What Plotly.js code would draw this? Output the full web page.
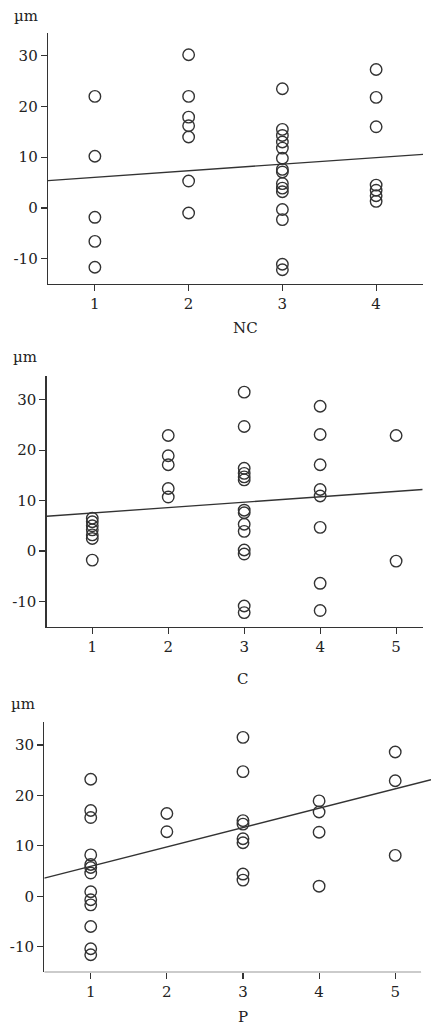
<!DOCTYPE html>
<html>
<head>
<meta charset="utf-8">
<script src="https://cdn.plot.ly/plotly-3.0.1.min.js"></script>
<style>html,body{margin:0;padding:0;background:#fff;}#chart{width:431px;height:1029px;}</style>
</head>
<body>
<div id="chart"></div>
<script>
// ---- data ----
const ncX = [1,1,1,1,1, 2,2,2,2,2,2,2, 3,3,3,3,3,3,3,3,3,3,3,3,3,3,3, 4,4,4,4,4,4,4];
const ncY = [22.0,10.2,-1.85,-6.6,-11.7,
             30.2,22.0,17.9,16.2,14.0,5.3,-1.0,
             23.5,15.5,14.3,13.0,11.8,9.8,7.6,7.1,4.8,3.9,3.2,-0.3,-2.3,-11.1,-12.2,
             27.3,21.8,16.0,4.5,3.5,2.4,1.3];
const ncFitX = [0.5, 4.52];
const ncFitY = [5.4, 10.6];

const cX = [1,1,1,1,1,1,1, 2,2,2,2,2, 3,3,3,3,3,3,3,3,3,3,3,3,3,3, 4,4,4,4,4,4,4,4, 5,5];
const cY = [6.5,5.8,5.0,4.2,3.2,2.5,-1.8,
            22.9,18.9,17.1,12.4,10.7,
            31.5,24.7,16.4,15.4,14.7,14.1,8.1,7.6,5.3,3.9,0.2,-0.6,-10.9,-12.2,
            28.7,23.1,17.1,12.2,10.9,4.7,-6.4,-11.8,
            22.9,-2.0];
const cFitX = [0.4, 5.35];
const cFitY = [6.9, 12.2];

const pX = [1,1,1,1,1,1,1,1,1,1,1,1,1, 2,2, 3,3,3,3,3,3,3,3, 4,4,4,4, 5,5,5];
const pY = [23.2,17.0,15.6,8.2,6.3,5.7,4.6,0.9,-0.7,-1.7,-6.0,-10.4,-11.6,
            16.4,12.8,
            31.5,24.7,15.0,14.3,11.4,10.6,4.4,3.2,
            18.9,16.7,12.7,2.0,
            28.6,22.9,8.1];
const pFitX = [0.39, 5.47];
const pFitY = [3.6, 23.1];

const yTicks = [-10, 0, 10, 20, 30];
const yTickText = ['-10', '0', '10', '20', '30'];
const unitLabel = 'µm';
const xTitles = ['NC', 'C', 'P'];

// ---- styling ----
const ink = '#333';
const font = {family: 'DejaVu Serif, Liberation Serif, serif', size: 15, color: '#222'};
const W = 431, H = 1029;

function pts(x, y, ax) {
  return {x: x, y: y, xaxis: 'x' + ax, yaxis: 'y' + ax, type: 'scatter', mode: 'markers',
    marker: {symbol: 'circle-open', size: 11.5, color: ink, line: {width: 1.4, color: ink}},
    hoverinfo: 'skip', showlegend: false};
}
function fit(x, y, ax) {
  return {x: x, y: y, xaxis: 'x' + ax, yaxis: 'y' + ax, type: 'scatter', mode: 'lines',
    line: {color: ink, width: 1.3}, hoverinfo: 'skip', showlegend: false, cliponaxis: false};
}

const data = [
  fit(ncFitX, ncFitY, ''), pts(ncX, ncY, ''),
  fit(cFitX, cFitY, '2'), pts(cX, cY, '2'),
  fit(pFitX, pFitY, '3'), pts(pX, pY, '3')
];

function xa(range, maxTick, l, r, anchor, showline) {
  const vals = [];
  for (let i = 1; i <= maxTick; i++) vals.push(i);
  return {domain: [l / W, r / W], range: range, anchor: anchor, tickmode: 'array', tickvals: vals,
    ticks: 'outside', ticklen: 6, tickwidth: 1.2, tickcolor: ink, showline: showline, linecolor: ink, linewidth: 1.3,
    showgrid: false, zeroline: false, tickfont: font, fixedrange: true};
}
function ya(range, top, bottom, anchor) {
  return {domain: [1 - bottom / H, 1 - top / H], range: range, anchor: anchor, tickmode: 'array',
    tickvals: yTicks, ticktext: yTickText,
    ticks: 'outside', ticklen: 6, tickwidth: 1.2, tickcolor: ink, showline: true, linecolor: ink, linewidth: 1.3,
    showgrid: false, zeroline: false, tickfont: font, fixedrange: true};
}

const annFont = {family: font.family, size: 15, color: '#222'};
function ann(text, px, py) {
  return {text: text, xref: 'paper', yref: 'paper', x: px / W, y: 1 - py / H,
    xanchor: 'center', yanchor: 'middle', showarrow: false, font: annFont};
}

const layout = {
  width: W, height: H,
  margin: {l: 0, r: 0, t: 0, b: 0},
  paper_bgcolor: '#fff', plot_bgcolor: 'rgba(0,0,0,0)',
  showlegend: false,
  xaxis: xa([0.5, 4.5], 4, 48, 423, 'y', true),
  yaxis: ya([-15, 34.5], 33, 284, 'x'),
  xaxis2: xa([0.4, 5.35], 5, 46.7, 422.7, 'y2', true),
  yaxis2: ya([-15, 34.7], 376, 626.7, 'x2'),
  xaxis3: xa([0.39, 5.47], 5, 44.3, 431, 'y3', false),
  yaxis3: ya([-15.07, 34.6], 721.7, 972.3, 'x3'),
  shapes: [
    {type: 'line', xref: 'x3', yref: 'y3', x0: 0.39, x1: 5.34, y0: -15.07, y1: -15.07,
     line: {color: ink, width: 1.3}}
  ],
  annotations: [
    ann(unitLabel, 26, 16), ann(unitLabel, 25, 357), ann(unitLabel, 23, 704),
    ann(xTitles[0], 246, 328), ann(xTitles[1], 243, 679), ann(xTitles[2], 243, 1017)
  ]
};

Plotly.newPlot('chart', data, layout, {displayModeBar: false, staticPlot: true});
</script>
</body>
</html>
